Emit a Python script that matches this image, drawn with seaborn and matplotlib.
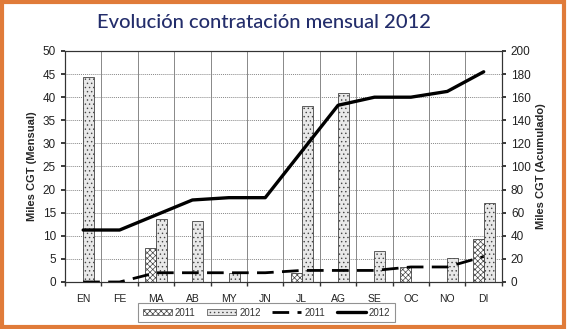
import numpy as np
import pandas as pd
import matplotlib
matplotlib.use("Agg")
import matplotlib.pyplot as plt
import seaborn as sns
from matplotlib.patches import Patch, Rectangle
from matplotlib.lines import Line2D

meses = ["EN", "FE", "MA", "AB", "MY", "JN", "JL", "AG", "SE", "OC", "NO", "DI"]
mensual_2011 = [0, 0, 7.4, 0, 0, 0, 2.0, 0, 0, 3.2, 0, 9.2]
mensual_2012 = [44.3, 0, 13.6, 13.1, 1.9, 0, 38.2, 40.9, 6.7, 0, 5.3, 17.1]
acum_2011 = [0, 0, 8, 8, 8, 8, 10, 10, 10, 13, 13, 22]
acum_2012 = [45, 45, 58, 71, 73, 73, 113, 153, 160, 160, 165, 182]
series = ["2011", "2012"]

sns.set_theme(style="white")
plt.rcParams['font.family'] = ['Liberation Sans', 'DejaVu Sans']
plt.rcParams['hatch.color'] = '#555555'
plt.rcParams['hatch.linewidth'] = 0.5

df = pd.DataFrame({
    "mes": meses * 2,
    "serie": ["2011"] * 12 + ["2012"] * 12,
    "valor": mensual_2011 + mensual_2012,
})

fig = plt.figure(figsize=(5.67, 3.29), dpi=100)
fig.patch.set_facecolor("white")
ax = fig.add_axes([0.1146, 0.1429, 0.7706, 0.7021])

sns.barplot(data=df, x="mes", y="valor", hue="serie", order=meses, hue_order=series,
            width=0.6, palette=["white", "#e8e8e8"], edgecolor="#444444", linewidth=0.6,
            legend=False, ax=ax)
hatches = ["xxxxxx", "...."]
for cont, h in zip(ax.containers, hatches):
    for p in cont:
        p.set_hatch(h)

ax.set_ylim(0, 50)
ax.set_xlim(-0.5, 11.5)
ax.set_yticks(range(0, 51, 5))
ax.set_xticks(range(12))
ax.set_xticklabels(meses, fontsize=7.5, color="#222222")
ax.tick_params(axis="x", length=0, pad=9)
ax.tick_params(axis="y", labelsize=8.5, colors="#222222", length=3, direction="out", left=True)
ax.set_xticks(np.arange(-0.5, 12, 1), minor=True)
ax.tick_params(axis="x", which="minor", length=3, direction="out", bottom=True, color="#333333")
ax.grid(axis="y", which="major", color="#888888", linestyle=(0, (1, 1)), linewidth=0.7)
ax.grid(axis="x", which="minor", color="#888888", linestyle="-", linewidth=0.7)
ax.set_axisbelow(True)
ax.set_xlabel("")
ax.set_ylabel("Miles CGT (Mensual)", fontsize=8, fontweight="bold", labelpad=4)
for s in ax.spines.values():
    s.set_color("#333333")
    s.set_linewidth(0.8)

ax2 = ax.twinx()
dl = pd.DataFrame({"pos": np.arange(12), "a2011": acum_2011, "a2012": acum_2012})
sns.lineplot(data=dl, x="pos", y="a2011", ax=ax2, color="black", linewidth=2.0)
ax2.lines[-1].set_dashes((6, 3))
sns.lineplot(data=dl, x="pos", y="a2012", ax=ax2, color="black", linewidth=2.4)
ax2.set_ylim(0, 200)
ax2.set_yticks(range(0, 201, 20))
ax2.tick_params(axis="y", labelsize=8.5, colors="#222222", length=3, direction="out", right=True)
ax2.set_ylabel("Miles CGT (Acumulado)", fontsize=8, fontweight="bold", labelpad=4)
ax2.set_xlabel("")
ax2.set_xlim(-0.5, 11.5)
for s in ax2.spines.values():
    s.set_color("#333333")
    s.set_linewidth(0.8)

handles = [
    Patch(facecolor="white", edgecolor="#444444", hatch="xxxxxx", linewidth=0.5, label="2011"),
    Patch(facecolor="#e8e8e8", edgecolor="#444444", hatch="....", linewidth=0.5, label="2012"),
    Line2D([0], [0], color="black", linewidth=2.0, dashes=(6, 3), label="2011"),
    Line2D([0], [0], color="black", linewidth=2.4, label="2012"),
]
leg = fig.legend(handles=handles, loc="center", bbox_to_anchor=(0.47, 0.05), ncol=4,
                 fontsize=7, frameon=True, fancybox=False, edgecolor="#777777",
                 handlelength=3.0, handleheight=0.6, columnspacing=1.2, handletextpad=0.3,
                 borderpad=0.45, borderaxespad=0)
leg.get_frame().set_linewidth(0.8)
for t in leg.get_texts():
    t.set_color("#333333")

fig.text(0.465, 0.933, "Evolución contratación mensual 2012", ha="center", va="center",
         fontsize=14.5, color="#232d6b", family=["Lato", "DejaVu Sans"], fontweight="medium")

fig.patches.append(Rectangle((0.003, 0.005), 0.992, 0.99, transform=fig.transFigure,
                             fill=False, edgecolor="#e07b39", linewidth=3))

fig.savefig("out.png", dpi=100)
